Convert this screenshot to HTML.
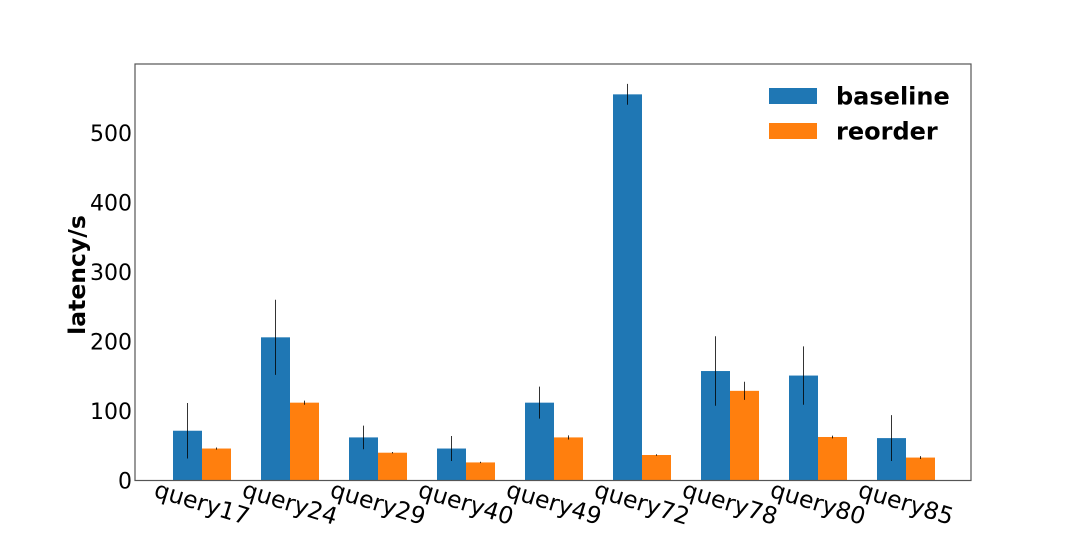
<!DOCTYPE html>
<html><head><meta charset="utf-8"><style>
body{margin:0;background:#fff;}
svg{display:block;font-family:"DejaVu Sans","Liberation Sans",sans-serif;}
</style></head><body>
<svg id="chart" width="1080" height="540" viewBox="0 0 1080 540" xmlns="http://www.w3.org/2000/svg">
<rect x="0" y="0" width="1080" height="540" fill="#fff"/>
<g id="plot"></g>
<rect x="135" y="64" width="836" height="416.5" fill="none" stroke="#555" stroke-width="1.2"/>
<text x="85" y="275" transform="rotate(-90 85 275)" text-anchor="middle" font-size="23.5" font-weight="bold" fill="#000">latency/s</text>
<g>
<rect x="769" y="88" width="48" height="16" fill="#1f77b4"/>
<text x="836" y="104.5" font-size="24" font-weight="bold">baseline</text>
<rect x="769" y="123" width="48" height="16" fill="#ff7f0e"/>
<text x="836" y="139.5" font-size="24" font-weight="bold">reorder</text>
</g>
</svg>
<script>
const categories = ["query17","query24","query29","query40","query49","query72","query78","query80","query85"];
const baseline = [71.6,206,62,46,112,555.6,157.5,151,61];
const baselineErr = [40,54,17,18,23,15,50,42,33];
const reorder = [46,112,40,26,62,36.7,129,62.6,33];
const reorderErr = [1.5,3,1,1,3,1,13,2,2];
const yTicks = [0,100,200,300,400,500];

const NS="http://www.w3.org/2000/svg";
const g=document.getElementById('plot');
const y0=480.5, pxPer=0.695;
function yScale(v){return y0-v*pxPer;}
function xCenter(i){return 202+i*88;}
const bw=29;
function mk(tag,attrs){const e=document.createElementNS(NS,tag);for(const k in attrs)e.setAttribute(k,attrs[k]);g.appendChild(e);return e;}

yTicks.forEach(t=>{
  const e=mk('text',{x:132,y:yScale(t)+8,'text-anchor':'end','font-size':22,fill:'#000'});
  e.textContent=t;
  
  
});

function series(vals,errs,color,offset,name){
  vals.forEach((v,i)=>{
    const x=xCenter(i)+offset;
    const r=mk('rect',{x:x,y:yScale(v),width:bw,height:y0-yScale(v),fill:color});
    
    
    const l=mk('line',{x1:x+bw/2,x2:x+bw/2,y1:yScale(v+errs[i]),y2:yScale(v-errs[i]),stroke:'#000','stroke-width':0.8});
    
    
  });
}
series(baseline,baselineErr,'#1f77b4',-bw,'baseline');
series(reorder,reorderErr,'#ff7f0e',0,'reorder');

categories.forEach((c,i)=>{
  const cx=xCenter(i), cy=511;
  const t=mk('text',{x:cx,y:cy,'text-anchor':'middle','font-size':23.5,fill:'#000',transform:`rotate(17 ${cx} ${cy-8})`});
  t.textContent=c;
  
  
});
</script>
</body></html>
